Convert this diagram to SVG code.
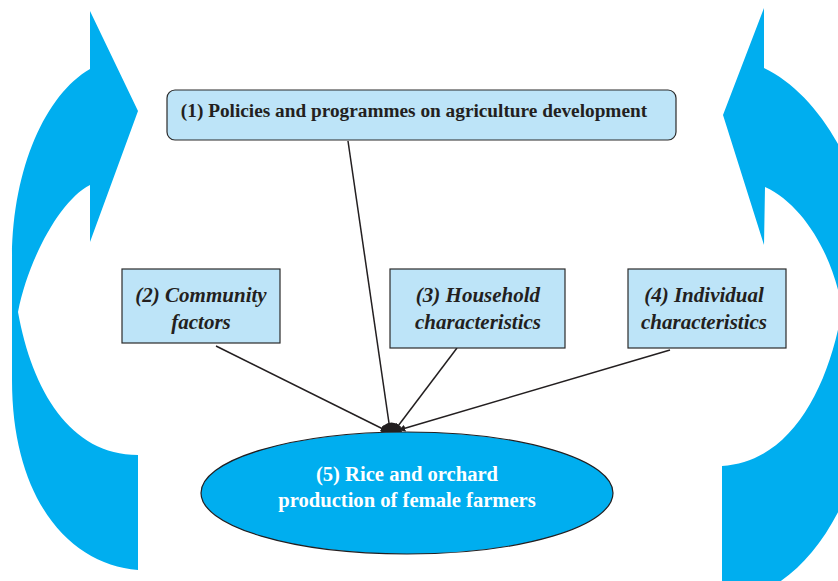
<svg xmlns="http://www.w3.org/2000/svg" width="838" height="581" viewBox="0 0 838 581">
<style>
.big{fill:#00aeef;stroke:none}
.box{fill:#bde4f8;stroke:#2b2b2b;stroke-width:1.2}
.t{font-family:"Liberation Serif","Times New Roman",serif;font-weight:bold;font-size:21px;fill:#231f20;text-anchor:middle}
.t1{font-size:19.3px}
.ti{font-style:italic}
.tw{fill:#ffffff;font-size:20.6px}
.conn{stroke:#231f20;stroke-width:1.5;fill:none;marker-end:url(#ah)}
</style>
<defs>
<marker id="ah" viewBox="0 0 10 10" refX="9" refY="5" markerWidth="7" markerHeight="7" orient="auto" markerUnits="userSpaceOnUse">
<path d="M0,0 L10,5 L0,10 Z" fill="#231f20"/>
</marker>
</defs>
<g id="left-arrow">
<path class="big" d="M138,111 L90,11 L90,69 C45,95 12,170 12,260 L12,380 C12,500 70,565 138,570 L138,455 C70,455 32,390 18,312 C28,260 60,200 90,185 L90,242 Z"/>
</g>
<g id="right-arrow">
<path class="big" d="M723,115 L764,8 L764,68 C830,100 880,200 880,320 C880,470 815,600 722,600 L722,466 C790,462 828,390 842,310 C835,260 805,205 765,187 L764,245 Z"/>
</g>
<g id="connectors">
<line class="conn" x1="348" y1="141" x2="390" y2="430"/>
<line class="conn" x1="216" y1="346" x2="387" y2="431"/>
<line class="conn" x1="457" y1="348" x2="395" y2="430"/>
<line class="conn" x1="670" y1="350" x2="399" y2="430"/>
<path d="M381,432 A10,9 0 0 1 402,432 Z" fill="#231f20"/>
</g>
<g id="n1">
<rect class="box" x="167" y="90" width="509" height="50" rx="8"/>
<text class="t t1" x="414" y="117">(1) Policies and programmes on agriculture development</text>
</g>
<g id="n2">
<rect class="box" x="122" y="269" width="158" height="74"/>
<text class="t ti" x="201" y="302">(2) Community</text>
<text class="t ti" x="201" y="329">factors</text>
</g>
<g id="n3">
<rect class="box" x="390" y="269" width="175" height="79"/>
<text class="t ti" x="478" y="302">(3) Household</text>
<text class="t ti" x="478" y="329">characteristics</text>
</g>
<g id="n4">
<rect class="box" x="628" y="269" width="158" height="79"/>
<text class="t ti" x="704" y="302">(4) Individual</text>
<text class="t ti" x="704" y="329">characteristics</text>
</g>
<g id="n5">
<ellipse cx="407" cy="493" rx="206" ry="61" fill="#00aeef" stroke="#231f20" stroke-width="1.2"/>
<text class="t tw" x="407" y="481">(5) Rice and orchard</text>
<text class="t tw" x="407" y="507">production of female farmers</text>
</g>
</svg>
